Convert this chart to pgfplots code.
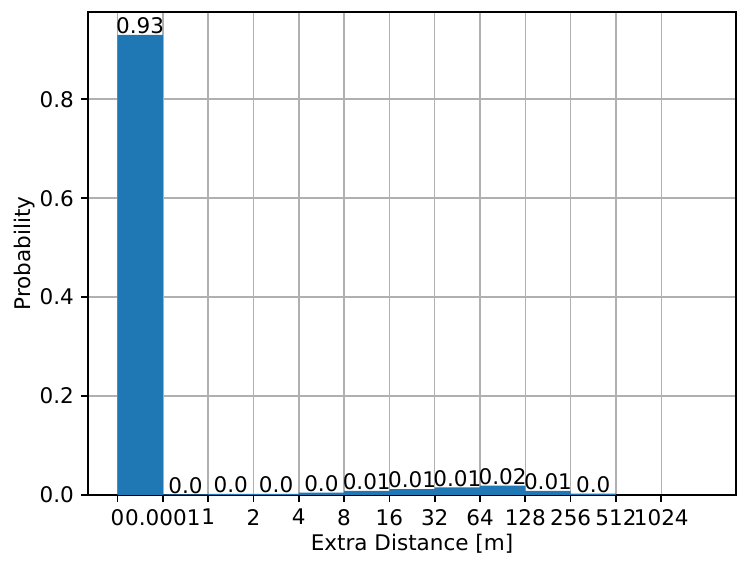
\documentclass[border=0pt]{standalone}
\usepackage{pgfplots}
\pgfplotsset{compat=1.18}
\usepackage{fontspec}
\setmainfont{DejaVu Sans}
\definecolor{mplblue}{HTML}{1F77B4}
\definecolor{gridgray}{HTML}{B0B0B0}
\begin{document}
\begin{tikzpicture}
\begin{axis}[
  scale only axis,
  width=466.6pt, height=347.8pt,
  xmin=-0.65, xmax=13.65,
  ymin=0, ymax=0.9765,
  xtick={0,1,2,3,4,5,6,7,8,9,10,11,12},
  xticklabels={0,0.0001,1,2,4,8,16,32,64,128,256,512,1024},
  ytick={0,0.2,0.4,0.6,0.8},
  yticklabels={0.0,0.2,0.4,0.6,0.8},
  grid=major,
  major grid style={line width=1.1pt, gridgray},
  axis line style={line width=1.2pt, black},
  tick style={line width=1.2pt, black},
  major tick length=5pt,
  tick align=outside,
  xtick pos=bottom, ytick pos=left,
  tick label style={font=\fontsize{15.5}{18}\selectfont, inner sep=0pt},
  xticklabel style={yshift=-5pt, anchor=north},
  yticklabel style={xshift=-5pt, anchor=east},
  label style={font=\fontsize{15.5}{18}\selectfont},
  xlabel={Extra Distance [m]},
  ylabel={Probability},
  xlabel style={inner sep=0pt, yshift=-6pt},
  ylabel style={inner sep=0pt, yshift=3pt},
  ybar, bar width=1,
  nodes near coords,
  point meta=explicit symbolic,
  every node near coord/.append style={font=\fontsize{15.5}{18}\selectfont, inner sep=0pt, anchor=south, yshift=0.5pt},
  /pgf/number format/assume math mode=true,
]
\addplot[draw=none, fill=mplblue] table[meta=lab] {
x y lab
0.5 0.93 0.93
1.5 0.001 0.0
2.5 0.002 0.0
3.5 0.002 0.0
4.5 0.0045 0.0
5.5 0.008 0.01
6.5 0.012 0.01
7.5 0.0155 0.01
8.5 0.019 0.02
9.5 0.008 0.01
10.5 0.0027 0.0
};
\path (rel axis cs:0,0) ++(-63.4pt,-51.8pt) coordinate (bl);
\path (rel axis cs:1,1) ++(7.9pt,8.6pt) coordinate (tr);
\end{axis}
\pgfresetboundingbox
\path[use as bounding box] (bl) rectangle (tr);
\end{tikzpicture}
\end{document}
